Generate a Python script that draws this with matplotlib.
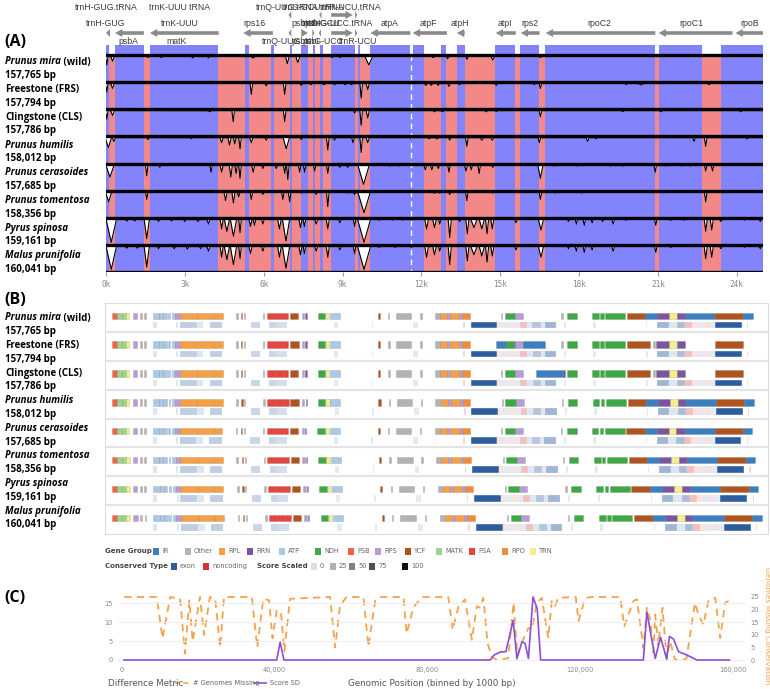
import numpy as np
import matplotlib
matplotlib.use("Agg")
from matplotlib import pyplot as plt
from matplotlib.patches import Rectangle, FancyArrow
from matplotlib.lines import Line2D

W, H = 770, 689

# ---------------- shared row labels (panels A and B) ----------------
species = ["Prunus mira", "Freestone", "Clingstone", "Prunus humilis",
           "Prunus cerasoides", "Prunus tomentosa", "Pyrus spinosa", "Malus prunifolia"]
species_note = [" (wild)", " (FRS)", " (CLS)", "", "", "", "", ""]
species_italic = [True, False, False, True, True, True, True, True]
genome_bp = [157765, 157794, 157786, 158012, 157685, 158356, 159161, 160041]

# ---------------- panel A: conservation tracks (kb) ----------------
exons_a = [(0.0, 0.13), (0.34, 1.44), (1.67, 4.27), (5.28, 5.44), (6.29, 6.38), (6.99, 7.08),
           (7.43, 7.68), (7.87, 7.97), (8.13, 8.25), (8.57, 9.46), (9.58, 9.65), (10.05, 11.58),
           (11.69, 12.1), (12.76, 12.95), (13.35, 13.65), (14.81, 15.58), (15.76, 16.49),
           (16.71, 20.9), (21.03, 22.67), (23.39, 25.0)]
cns_a = [(0.13, 0.34), (1.44, 1.67), (4.27, 5.28), (5.44, 6.29), (6.38, 6.99), (7.08, 7.43),
         (7.68, 7.87), (7.97, 8.13), (8.25, 8.57), (9.46, 9.58), (9.65, 10.05), (12.1, 12.76),
         (12.95, 13.35), (13.65, 14.81), (15.58, 15.76), (16.49, 16.71), (20.9, 21.03),
         (22.67, 23.39)]

# dips per track: (position kb, depth 0-1, half width kb)
dips_mira = [(0.03, 0.35, 0.05), (0.25, 0.2, 0.07), (1.6, 0.05, 0.05), (2.1, 0.05, 0.05),
             (3.3, 0.06, 0.05), (3.9, 0.06, 0.05), (5.6, 0.07, 0.08), (6.9, 0.3, 0.07),
             (7.3, 0.25, 0.08), (8.6, 0.05, 0.05), (8.9, 0.05, 0.05), (10.0, 0.35, 0.15),
             (11.6, 0.05, 0.04), (12.45, 0.05, 0.05), (13.0, 0.1, 0.05), (13.74, 0.12, 0.06),
             (14.72, 0.15, 0.07), (16.53, 0.05, 0.05)]
dips_frs = [(0.03, 0.35, 0.05), (0.25, 0.2, 0.07), (5.53, 0.45, 0.05), (6.1, 0.1, 0.05),
            (6.8, 0.45, 0.05), (7.43, 0.08, 0.05), (7.8, 0.05, 0.05), (8.3, 0.05, 0.05),
            (8.7, 0.05, 0.05), (9.1, 0.05, 0.05), (9.35, 0.05, 0.05), (9.71, 0.6, 0.05),
            (9.96, 0.25, 0.06), (12.17, 0.08, 0.05), (12.38, 0.08, 0.05), (12.64, 0.08, 0.05),
            (13.05, 0.12, 0.05), (13.46, 0.05, 0.04), (14.85, 0.08, 0.05), (16.3, 0.05, 0.04),
            (16.53, 0.2, 0.05), (19.8, 0.05, 0.05), (20.36, 0.06, 0.1), (22.95, 0.05, 0.05)]
dips_cls = [(0.03, 0.35, 0.05), (0.25, 0.2, 0.07), (3.95, 0.05, 0.06), (4.84, 0.45, 0.05),
            (6.8, 0.45, 0.05), (9.46, 0.1, 0.05), (9.71, 0.6, 0.05), (9.96, 0.3, 0.06),
            (12.5, 0.05, 0.05), (12.8, 0.05, 0.06), (14.47, 0.05, 0.05), (14.85, 0.05, 0.05),
            (16.53, 0.25, 0.05), (19.66, 0.05, 0.05), (21.12, 0.05, 0.05), (24.15, 0.05, 0.05)]
dips_hum = [(0.09, 0.4, 0.12), (0.3, 0.15, 0.06), (1.6, 0.08, 0.05), (3.25, 0.04, 0.05),
            (4.4, 0.2, 0.06), (4.7, 0.3, 0.06), (4.9, 0.25, 0.05), (5.1, 0.45, 0.05),
            (5.53, 0.2, 0.06), (6.1, 0.1, 0.05), (6.86, 0.45, 0.12), (7.43, 0.08, 0.05),
            (8.44, 0.5, 0.05), (8.7, 0.1, 0.05), (9.4, 0.2, 0.05), (9.71, 0.6, 0.05),
            (9.96, 0.2, 0.06), (11.62, 0.05, 0.05), (12.3, 0.05, 0.05), (12.6, 0.05, 0.05),
            (13.08, 0.1, 0.05), (13.73, 0.35, 0.05), (14.3, 0.1, 0.06), (14.7, 0.1, 0.06),
            (16.49, 0.2, 0.05), (18.33, 0.15, 0.06), (18.65, 0.05, 0.05), (22.38, 0.15, 0.05),
            (22.82, 0.35, 0.05), (24.4, 0.05, 0.05)]
dips_cer = [(0.15, 0.5, 0.16), (1.55, 0.45, 0.05), (2.05, 0.1, 0.05), (4.0, 0.3, 0.05),
            (4.4, 0.3, 0.06), (4.75, 0.5, 0.06), (4.95, 0.35, 0.05), (5.1, 0.55, 0.05),
            (5.6, 0.3, 0.06), (5.97, 0.15, 0.05), (6.48, 0.15, 0.06), (6.8, 0.35, 0.05),
            (6.92, 0.6, 0.05), (7.37, 0.3, 0.05), (7.56, 0.3, 0.05), (7.94, 0.25, 0.05),
            (8.44, 0.35, 0.05), (8.9, 0.1, 0.06), (9.2, 0.1, 0.06), (9.8, 0.8, 0.22),
            (10.8, 0.05, 0.04), (11.18, 0.05, 0.04), (11.62, 0.05, 0.04), (12.15, 0.2, 0.06),
            (12.4, 0.2, 0.06), (12.65, 0.15, 0.05), (13.05, 0.3, 0.05), (13.7, 0.25, 0.06),
            (13.9, 0.2, 0.05), (14.2, 0.35, 0.05), (14.72, 0.1, 0.06), (16.53, 0.55, 0.1),
            (17.06, 0.05, 0.04), (17.9, 0.05, 0.05), (19.2, 0.05, 0.05), (19.7, 0.05, 0.05),
            (20.9, 0.3, 0.05), (21.3, 0.05, 0.04), (21.9, 0.05, 0.04), (22.25, 0.05, 0.04),
            (22.82, 0.25, 0.05), (23.08, 0.25, 0.05)]
dips_tom = [(0.1, 0.4, 0.12), (1.55, 0.3, 0.05), (4.55, 0.35, 0.06), (4.85, 0.45, 0.06),
            (5.05, 0.2, 0.05), (5.53, 0.3, 0.05), (5.97, 0.1, 0.05), (6.73, 0.3, 0.05),
            (6.99, 0.4, 0.05), (7.43, 0.05, 0.05), (8.0, 0.1, 0.05), (8.44, 0.6, 0.05),
            (9.2, 0.05, 0.05), (9.46, 0.1, 0.05), (9.82, 0.85, 0.24), (12.5, 0.05, 0.05),
            (12.7, 0.05, 0.05), (13.08, 0.1, 0.05), (13.73, 0.35, 0.05), (14.72, 0.05, 0.05),
            (16.53, 0.3, 0.05), (17.1, 0.05, 0.04), (18.1, 0.05, 0.04), (22.82, 0.4, 0.05)]
dips_pyr = [(0.2, 0.95, 0.2), (0.8, 0.08, 0.06), (1.1, 0.08, 0.06), (1.55, 0.8, 0.1),
            (2.0, 0.1, 0.06), (2.5, 0.08, 0.06), (3.0, 0.1, 0.06), (3.5, 0.1, 0.06),
            (3.9, 0.2, 0.06), (4.4, 0.4, 0.06), (4.6, 0.5, 0.1), (4.85, 0.7, 0.12),
            (5.1, 0.55, 0.05), (5.5, 0.3, 0.06), (5.65, 0.25, 0.05), (5.97, 0.2, 0.06),
            (6.6, 0.4, 0.07), (6.85, 0.9, 0.14), (7.4, 0.35, 0.06), (7.55, 0.3, 0.05),
            (8.0, 0.2, 0.06), (8.44, 0.4, 0.06), (8.9, 0.15, 0.06), (9.46, 0.3, 0.05),
            (9.82, 0.95, 0.25), (10.4, 0.05, 0.05), (10.9, 0.05, 0.05), (11.3, 0.05, 0.05),
            (11.62, 0.05, 0.05), (12.2, 0.4, 0.07), (12.5, 0.35, 0.07), (12.7, 0.2, 0.05),
            (13.08, 0.75, 0.06), (13.46, 0.1, 0.05), (13.75, 0.6, 0.06), (14.0, 0.35, 0.12),
            (14.3, 0.4, 0.1), (14.5, 0.6, 0.06), (14.7, 0.4, 0.06), (15.6, 0.15, 0.06),
            (16.55, 0.45, 0.1), (17.6, 0.1, 0.05), (17.9, 0.2, 0.05), (18.2, 0.25, 0.05),
            (18.5, 0.15, 0.05), (18.9, 0.1, 0.05), (19.3, 0.2, 0.06), (19.8, 0.05, 0.05),
            (20.92, 0.25, 0.05), (21.5, 0.05, 0.05), (22.0, 0.05, 0.05), (22.82, 0.5, 0.06),
            (23.05, 0.45, 0.06), (23.4, 0.1, 0.06), (24.3, 0.05, 0.05), (24.9, 0.1, 0.05)]
dips_mal = [(0.2, 0.95, 0.2), (0.8, 0.08, 0.06), (1.2, 0.08, 0.06), (1.55, 0.85, 0.1),
            (2.0, 0.1, 0.06), (2.6, 0.1, 0.06), (3.1, 0.12, 0.06), (3.6, 0.1, 0.06),
            (3.9, 0.2, 0.06), (4.4, 0.45, 0.06), (4.6, 0.55, 0.1), (4.85, 0.75, 0.12),
            (5.1, 0.5, 0.05), (5.5, 0.3, 0.06), (5.97, 0.2, 0.06), (6.6, 0.45, 0.07),
            (6.85, 0.9, 0.14), (7.4, 0.35, 0.06), (7.55, 0.3, 0.05), (8.0, 0.2, 0.06),
            (8.44, 0.45, 0.06), (8.9, 0.15, 0.06), (9.46, 0.3, 0.05), (9.82, 0.95, 0.25),
            (10.4, 0.05, 0.05), (11.0, 0.05, 0.05), (11.62, 0.05, 0.05), (12.2, 0.45, 0.07),
            (12.5, 0.35, 0.07), (12.7, 0.2, 0.05), (13.08, 0.75, 0.06), (13.75, 0.6, 0.06),
            (14.0, 0.35, 0.12), (14.3, 0.4, 0.1), (14.5, 0.65, 0.06), (14.7, 0.4, 0.06),
            (15.6, 0.15, 0.06), (16.55, 0.45, 0.1), (17.6, 0.1, 0.05), (17.9, 0.2, 0.05),
            (18.2, 0.25, 0.05), (18.5, 0.15, 0.05), (19.3, 0.2, 0.06), (20.92, 0.25, 0.05),
            (21.5, 0.05, 0.05), (22.82, 0.5, 0.06), (23.05, 0.45, 0.06), (23.4, 0.1, 0.06),
            (24.3, 0.05, 0.05), (24.9, 0.1, 0.05)]
track_dips = [dips_mira, dips_frs, dips_cls, dips_hum, dips_cer, dips_tom, dips_pyr, dips_mal]

# gene features above the tracks: (start kb, end kb, strand)
genes_a = [(0.0, 0.15, -1), (0.34, 1.44, -1), (1.67, 4.29, -1), (5.22, 6.35, -1),
           (6.95, 7.05, -1), (7.43, 7.68, 1), (7.85, 7.93, 1), (8.1, 8.18, -1),
           (8.57, 9.39, 1), (9.48, 9.56, 1), (10.06, 11.58, -1), (11.67, 12.97, -1),
           (13.35, 13.65, -1), (14.83, 15.59, -1), (15.78, 16.5, -1), (16.73, 20.9, -1),
           (21.03, 23.84, -1), (23.95, 25.0, -1)]
trna_a = [(6.95, 7.05, -1), (8.12, 8.2, -1), (8.57, 9.39, 1), (9.48, 9.56, 1)]
labels_top = [("trnH-GUG.tRNA", 0.0), ("trnK-UUU tRNA", 2.8), ("trnQ-UUG.tRNA", 6.9),
              ("trnS-GCU.tRNA", 7.9), ("trnR-UCU.tRNA", 9.3)]
labels_mid = [("trnH-GUG", 0.0), ("trnK-UUU", 2.8), ("rps16", 5.66), ("psbK", 7.45),
              ("psbI", 7.85), ("trnS-GCU", 8.2), ("trnG-UCC.tRNA", 9.0), ("atpA", 10.8),
              ("atpF", 12.25), ("atpH", 13.46), ("atpI", 15.17), ("rps2", 16.12),
              ("rpoC2", 18.78), ("rpoC1", 22.28), ("rpoB", 24.49)]
labels_low = [("psbA", 0.85), ("matK", 2.7), ("trnQ-UUG", 6.67), ("psbK", 7.45),
              ("psbI", 7.8), ("trnG-UCC", 8.3), ("trnR-UCU", 9.6)]

# ---------------- panel B: gene blocks (kb, mira coordinates) ----------------
genes_b_common = [(0.0, 1.2, "PSB"), (1.2, 2.4, "MATK"), (2.4, 3.4, "MATK"), (3.4, 4.3, "TRN"),
                  (5.2, 6.2, "RPS"), (6.9, 7.3, "Other"), (7.9, 8.3, "Other"),
                  (10.0, 11.6, "ATP"), (11.6, 12.6, "ATP"), (12.6, 13.5, "ATP"), (13.9, 14.3, "ATP"),
                  (14.8, 15.6, "ATP"), (15.6, 16.7, "RPS"), (16.7, 21.0, "RPL"), (21.0, 25.0, "RPL"),
                  (25.0, 27.2, "RPL"), (30.5, 30.9, "Other"), (31.8, 32.1, "YCF"), (32.5, 32.8, "Other"),
                  (37.2, 37.5, "Other"), (38.1, 40.0, "PSA"), (40.0, 42.0, "PSA"), (42.0, 43.4, "PSA"),
                  (43.8, 45.9, "YCF"), (46.7, 47.3, "RPS"), (47.6, 47.9, "RRN"),
                  (50.6, 52.4, "NDH"), (52.6, 53.5, "TRN"), (53.7, 56.1, "ATP"),
                  (65.4, 66.0, "YCF"), (68.0, 68.3, "Other"), (70.0, 73.7, "Other"), (75.9, 76.2, "Other"),
                  (79.5, 80.8, "Other"), (80.8, 82.5, "RPL"), (82.5, 83.2, "RPS"), (83.2, 85.5, "RPL"),
                  (85.5, 86.2, "RPS"), (86.2, 88.1, "RPO")]
tail_mira = [(95.8, 96.1, "Other"), (96.7, 99.2, "NDH"), (99.2, 101.2, "RPS"), (110.6, 110.9, "Other"),
             (112.1, 114.4, "NDH"), (118.2, 119.8, "NDH"), (120.2, 121.0, "NDH"), (121.4, 126.3, "NDH"),
             (126.7, 131.2, "YCF"), (131.2, 134.1, "IR"), (134.1, 137.2, "RRN"), (137.2, 139.0, "TRN"),
             (139.0, 141.0, "RRN"), (141.0, 148.4, "IR"), (148.4, 155.4, "YCF"), (155.4, 157.7, "IR")]
tail_frs = [(94.5, 97.0, "IR"), (97.0, 98.9, "NDH"), (98.9, 99.3, "IR"), (99.3, 101.1, "RPS"),
            (101.1, 106.6, "IR"), (110.6, 110.9, "Other"), (112.1, 114.4, "NDH"), (118.2, 119.8, "NDH"),
            (120.2, 121.0, "NDH"), (121.4, 126.3, "NDH"), (126.7, 132.3, "YCF"), (133.2, 133.7, "Other"),
            (134.0, 137.2, "RRN"), (137.2, 139.0, "TRN"), (139.0, 141.0, "RRN"), (148.4, 155.3, "YCF")]
tail_cls = [(95.8, 96.1, "Other"), (96.7, 99.2, "NDH"), (99.2, 101.2, "RPS"), (104.4, 111.1, "IR"),
            (111.1, 111.6, "RRN"), (111.9, 114.4, "NDH"), (118.2, 119.8, "NDH"), (120.2, 121.0, "NDH"),
            (121.4, 126.3, "NDH"), (126.7, 132.3, "YCF"), (133.2, 133.7, "Other"), (134.0, 137.2, "RRN"),
            (137.2, 139.0, "TRN"), (139.0, 141.0, "RRN"), (148.4, 155.3, "YCF")]
row_tail = [tail_mira, tail_frs, tail_cls, tail_mira, tail_mira, tail_mira, tail_mira, tail_mira]
cons_b = [(10.0, 11.0, "exon", 15), (15.8, 16.3, "exon", 15), (16.7, 20.8, "exon", 30),
          (20.8, 22.5, "exon", 15), (24.0, 27.0, "exon", 30), (34.1, 36.4, "exon", 25),
          (38.7, 40.5, "exon", 25), (40.5, 43.0, "exon", 20), (54.7, 55.7, "exon", 8),
          (63.9, 64.3, "exon", 8), (74.2, 75.4, "exon", 12), (86.5, 86.9, "noncoding", 20),
          (88.3, 94.8, "exon", 100), (94.8, 96.0, "noncoding", 10), (96.0, 97.5, "exon", 10),
          (97.5, 99.0, "noncoding", 12), (99.0, 100.4, "exon", 12), (100.4, 102.1, "noncoding", 30),
          (102.1, 103.5, "exon", 15), (103.5, 105.5, "exon", 35), (105.5, 106.5, "exon", 15),
          (106.5, 109.3, "exon", 45), (111.3, 111.8, "exon", 8), (118.5, 119.1, "exon", 8),
          (131.4, 131.8, "exon", 8), (134.1, 137.0, "exon", 45), (137.0, 139.0, "exon", 15),
          (139.0, 141.0, "exon", 40), (141.0, 142.7, "noncoding", 30), (142.7, 144.5, "noncoding", 10),
          (144.5, 146.0, "exon", 12), (146.0, 147.0, "noncoding", 15), (147.0, 148.4, "exon", 10),
          (148.4, 155.0, "exon", 100), (156.3, 156.6, "noncoding", 20)]

group_names = ["IR", "Other", "RPL", "RRN", "ATP", "NDH", "PSB", "RPS", "YCF", "MATK", "PSA", "RPO", "TRN"]
group_colors = ["#3b7fc0", "#b3b3b3", "#f5a046", "#7b559f", "#a9c9e7", "#3ea844", "#f0633e",
                "#b89cd6", "#b0541f", "#9bd48e", "#e5453c", "#f08b3a", "#f5ee8a"]
cons_colors = {"exon": "#2d5d9c", "noncoding": "#d5332d"}
score_ticks = [0, 25, 50, 75, 100]
score_grays = ["#dedede", "#b0b0b0", "#808080", "#505050", "#111111"]

# ---------------- panel C: binned differences (kb) ----------------
missing_kb = [0.6, 9.1, 10.6, 12.6, 15.2, 16.5, 17.6, 18.5, 20.4, 21.5, 23.0, 24.4, 25.7, 26.7,
              34.0, 35.4, 37.0, 38.5, 39.4, 40.5, 41.6, 42.5, 44.0, 54.5, 55.8, 57.1, 58.8, 63.2,
              64.5, 66.3, 67.5, 73.7, 74.5, 76.3, 78.6, 85.4, 86.6, 88.1, 89.8, 91.6, 92.9, 93.7,
              94.6, 95.7, 96.8, 98.1, 101.1, 102.5, 103.5, 104.6, 106.4, 107.3, 108.6, 109.9,
              111.6, 112.5, 113.4, 114.2, 118.8, 119.5, 121.2, 122.5, 130.4, 131.5, 133.9, 134.8,
              136.5, 137.4, 138.3, 139.1, 139.6, 140.4, 141.5, 142.6, 143.5, 144.8, 147.0, 147.8,
              150.0, 150.9, 152.2, 153.5, 155.3, 156.6, 157.9, 158.8]
missing_n = [25, 25, 8.6, 25, 24.3, 2.6, 23.7, 7.4, 25, 10, 25, 24.3, 5, 25,
             25, 5, 24.3, 23.7, 8.6, 19.7, 19, 3.5, 24.3, 25, 5, 21.7, 25, 25,
             5.3, 23.7, 25, 25, 10.5, 21, 25, 25, 12, 21.4, 24, 8, 21.4, 20.7,
             24.6, 6.7, 1.3, 0, 0.7, 22.7, 2, 6.7, 12.7, 12, 22.7, 24.7,
             8.7, 23.4, 21.4, 24.7, 25, 15.4, 24.3, 25, 25, 13.4, 23.4, 24.1,
             4.7, 20.7, 16, 3, 18, 6, 20.7, 0.7, 7.4, 0, 0, 0.7,
             22.7, 18, 14, 23.4, 24.7, 8.7, 22.7, 23.4]
sd_kb = [0.5, 40.5, 41.4, 42.4, 96.4, 97.4, 99.0, 100.5, 102.4, 103.4, 104.7, 105.5, 106.4,
         107.6, 108.7, 109.6, 136.5, 137.4, 139.6, 141.0, 142.6, 143.3, 144.4, 145.7, 147.9,
         150.5, 159.0]
score_sd = [0, 0, 4.7, 0, 0, 1.3, 2.1, 2.2, 10.4, 0.3, 4.8, 4.4, 0.4, 16.6, 13.5, 0, 0, 12.6,
            0.4, 6.0, 0.2, 6.2, 5.5, 2.2, 1.3, 0, 0]

BLUE = "#8383fb"
PINK = "#f28888"
LABEL_FONT = "Open Sans"

fig = plt.figure(figsize=(W / 100, H / 100), dpi=100)


def px_axes(x0, y0, x1, y1):
    return fig.add_axes([x0 / W, 1 - y1 / H, (x1 - x0) / W, (y1 - y0) / H])


def fig_text(x, y, s, **kw):
    return fig.text(x / W, 1 - y / H, s, **kw)


def row_labels(y_first, step):
    renderer = fig.canvas.get_renderer()
    for i, name in enumerate(species):
        y = y_first + step * i
        t = fig_text(5, y, name, fontsize=7, fontweight="bold", family=LABEL_FONT,
                     style="italic" if species_italic[i] else "normal", va="center")
        if species_note[i]:
            bb = t.get_window_extent(renderer)
            fig.text(bb.x1 / W, 1 - y / H, species_note[i], fontsize=7,
                     fontweight="bold", family=LABEL_FONT, va="center")
        fig_text(5, y + 13.6, f"{genome_bp[i]:,} bp", fontsize=7, fontweight="bold",
                 family=LABEL_FONT, va="center")


# ================= panel A =================
strip = 10 / 27.1
axA = px_axes(106, 45, 763, 272)
axA.set_xlim(0, 25)
axA.set_ylim(8, -strip)
axA.add_patch(Rectangle((0, 0), 25, 8, color=BLUE, lw=0))
for s, e in cns_a:
    axA.add_patch(Rectangle((s, 0), e - s, 8, color=PINK, lw=0))
for s, e in exons_a:
    axA.add_patch(Rectangle((s, -strip), e - s, strip, color=BLUE, lw=0))
grid = np.linspace(0, 25, 5001)
for i, dips in enumerate(track_dips):
    depth = np.zeros_like(grid)
    for c, d, w in dips:
        depth = np.maximum(depth, d * np.clip(1 - np.abs(grid - c) / w, 0, 1))
    yv = i + 0.05 + 0.9 * depth
    axA.fill_between(grid, i, yv, color="white", lw=0)
    axA.plot(grid, yv, color="black", lw=0.8)
axA.plot([11.62, 11.62], [0, 8], color="white", lw=1.0, ls=(0, (4, 3)))
for i in range(9):
    axA.axhline(i, color="black", lw=2.4)
for sp in axA.spines.values():
    sp.set_visible(False)
axA.set_xticks(range(0, 25, 3))
axA.set_xticklabels([f"{t}k" for t in range(0, 25, 3)], family="DejaVu Sans Mono")
axA.tick_params(axis="x", labelsize=5.6, labelcolor="#888888", color="#999999", length=3, pad=3)
axA.tick_params(axis="y", left=False, labelleft=False)

axG = px_axes(106, 0, 763, 45)
axG.set_xlim(0, 25)
axG.set_ylim(45, 0)
axG.axis("off")
for y_row, feats in ((33, genes_a), (15, trna_a)):
    for s, e, strand in feats:
        length = e - s
        head = min(0.28, length)
        x0, dx = (s, length) if strand > 0 else (e, -length)
        axG.add_patch(FancyArrow(x0, y_row, dx, 0, width=3.6, head_width=8, head_length=head,
                                 length_includes_head=True, color="#8a8a8a", lw=0))
for y_row, labels in ((7, labels_top), (24, labels_mid), (42, labels_low)):
    for name, pos in labels:
        axG.text(pos, y_row, name, fontsize=6.3, family="Liberation Sans", color="#3a3a3a",
                 ha="center", va="center", clip_on=False)

fig_text(4, 42, "(A)", fontsize=11.5, fontweight="bold", family=LABEL_FONT, va="center")
row_labels(62, 27.7)

# ================= panel B =================
axB = px_axes(105, 303, 768, 534)
kb_per_px = 1 / 4.0625
axB.set_xlim(-7 * kb_per_px, 656 * kb_per_px)
axB.set_ylim(8, 0)
axB.set_xticks([])
axB.set_yticks([])
for sp in axB.spines.values():
    sp.set_color("#dddddd")
    sp.set_linewidth(0.8)
for i in range(1, 8):
    axB.axhline(i, color="#e4e4e4", lw=1.6)
gcol = dict(zip(group_names, group_colors))
for i in range(8):
    scale = genome_bp[i] / genome_bp[0]
    for s, e, g in genes_b_common + row_tail[i]:
        axB.add_patch(Rectangle((s * scale, i + 0.33), (e - s) * scale, 0.22, facecolor=gcol[g],
                                edgecolor=(0, 0, 0, 0.18), lw=0.4))
    for s, e, kind, score in cons_b:
        axB.add_patch(Rectangle((s * scale, i + 0.65), (e - s) * scale, 0.23,
                                facecolor=cons_colors[kind], alpha=max(0.13, score / 100),
                                edgecolor="white", lw=0.3))

fig_text(4, 300, "(B)", fontsize=11.5, fontweight="bold", family=LABEL_FONT, va="center")
row_labels(318, 27.6)

# legend of panel B
leg_font = dict(fontsize=4.8, color="#666666", va="center", family="DejaVu Sans")
head_font = dict(fontsize=5.0, fontweight="bold", color="#444444", va="center")
fig_text(105, 551, "Gene Group", **head_font)
group_x = [153, 185, 219, 247, 279, 315, 348, 375, 405, 436, 469, 502, 530]
for gx, name, col in zip(group_x, group_names, group_colors):
    fig.patches.append(Rectangle((gx / W, 1 - 554.5 / H), 6 / W, 7 / H, facecolor=col,
                                 transform=fig.transFigure, figure=fig))
    fig_text(gx + 9, 551, name, **leg_font)
fig_text(105, 566, "Conserved Type", **head_font)
for gx, name in ((171, "exon"), (203, "noncoding")):
    fig.patches.append(Rectangle((gx / W, 1 - 569.5 / H), 6 / W, 7 / H, facecolor=cons_colors[name],
                                 transform=fig.transFigure, figure=fig))
    fig_text(gx + 9, 566, name, **leg_font)
fig_text(257, 566, "Score Scaled", **head_font)
for gx, val, col in zip([311, 330, 349, 369, 402], score_ticks, score_grays):
    fig.patches.append(Rectangle((gx / W, 1 - 569.5 / H), 6 / W, 7 / H, facecolor=col,
                                 transform=fig.transFigure, figure=fig))
    fig_text(gx + 9, 566, str(val), **leg_font)

# ================= panel C =================
axC = px_axes(118, 588, 745, 663)
axC.set_xlim(-1.05, 163.1)
axC.set_ylim(-0.79, 18.95)
axC2 = axC.twinx()
axC2.set_ylim(-1.19, 28.57)
axC.set_yticks([0, 5, 10, 15])
axC2.set_yticks([0, 5, 10, 15, 20, 25])
axC.set_xticks([0, 40, 80, 120, 160])
axC.set_xticklabels(["0", "40,000", "80,000", "120,000", "160,000"])
axC.grid(axis="y", color="#eeeeee", lw=0.7)
for a in (axC, axC2):
    for sp in a.spines.values():
        sp.set_visible(False)
    a.tick_params(labelsize=4.8, labelcolor="#888888", length=0, pad=4)
axC.tick_params(axis="x", pad=3)
axC2.plot(missing_kb, missing_n, color="#f3a34f", lw=1.3, ls=(0, (4, 3)))
axC.plot(sd_kb, score_sd, color="#8c4fd6", lw=1.2)
axC.set_zorder(axC2.get_zorder() + 1)
axC.patch.set_visible(False)
axC.set_xlabel("Genomic Position (binned by 1000 bp)", fontsize=6.3, color="#555555", labelpad=4)
axC2.set_ylabel("Genomes Missing Conservation", fontsize=5.4, color="#f3a34f", rotation=-90,
                labelpad=8)

fig_text(4, 598, "(C)", fontsize=11.5, fontweight="bold", family=LABEL_FONT, va="center")
fig_text(108, 683, "Difference Metric", fontsize=6.3, color="#555555", va="center")
fig.lines.append(Line2D([175 / W, 189 / W], [1 - 683 / H] * 2, color="#f3a34f", lw=1.2,
                        ls=(0, (3, 2)), transform=fig.transFigure))
fig_text(193, 683, "# Genomes Missing", fontsize=4.8, color="#666666", va="center")
fig.lines.append(Line2D([254 / W, 266 / W], [1 - 683 / H] * 2, color="#8c4fd6", lw=1.2,
                        transform=fig.transFigure))
fig_text(270, 683, "Score SD", fontsize=4.8, color="#666666", va="center")

fig.savefig("out.png", dpi=100)
